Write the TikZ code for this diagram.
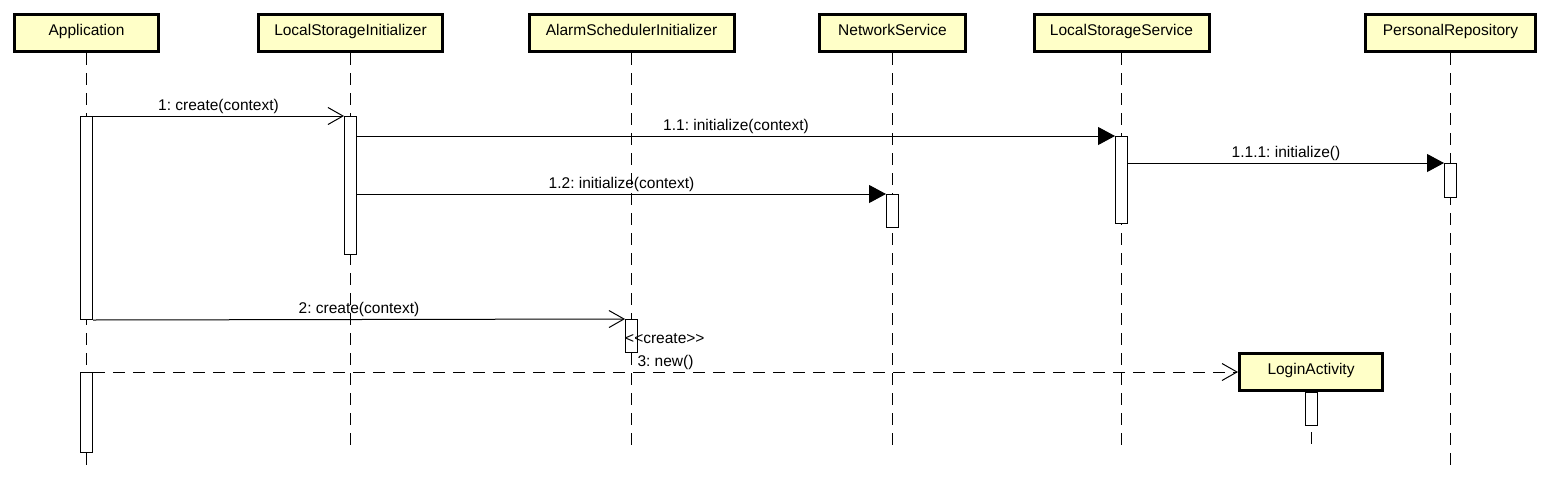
\documentclass[tikz,border=0pt]{standalone}
\usepackage{fontspec}
\setmainfont{Liberation Sans}
\usetikzlibrary{arrows.meta}
\definecolor{objyellow}{RGB}{255,255,200}
\frenchspacing

\begin{document}
\begin{tikzpicture}[x=1pt,y=-1pt,font=\fontsize{15.5}{18}\selectfont]
\tikzset{obj/.style = {draw, line width=3pt, fill=objyellow, minimum height=37pt, inner sep=0pt, text height=10pt, text depth=5pt},
  life/.style = {line width=1pt, dash pattern=on 12pt off 8pt},
  act/.style = {draw, fill=white, line width=1pt, minimum width=12pt, inner sep=0pt, anchor=north},
  call/.style = {line width=1pt, -{Triangle[length=17pt,width=18pt]}},
  create/.style = {line width=1pt, -{Straight Barb[length=15pt,width=17pt]}},
  reply/.style = {create, dash pattern=on 12pt off 8pt},
  lbl/.style = {above, midway, inner sep=2pt}}
\useasboundingbox (0,0) rectangle (1550,485);

\node[obj, minimum width=144pt] (app) at (86.5,33) {Application};
\node[obj, minimum width=184pt] (lsi) at (350.5,33) {LocalStorageInitializer};
\node[obj, minimum width=205pt] (asi) at (631.5,33) {AlarmSchedulerInitializer};
\node[obj, minimum width=146pt] (ns) at (892.5,33) {NetworkService};
\node[obj, minimum width=175pt] (lss) at (1121.5,33) {LocalStorageService};
\node[obj, minimum width=170pt] (pr) at (1450.5,33) {PersonalRepository};
\node[obj, minimum width=143pt] (la) at (1311,372) {LoginActivity};

% lifelines
\coordinate (append) at (86.5,472);
\coordinate (lsiend) at (350.5,445);
\coordinate (asiend) at (631.5,445);
\coordinate (nsend) at (892.5,445);
\coordinate (lssend) at (1121.5,445);
\coordinate (prend) at (1450.5,472);
\coordinate (laend) at (1311,445);
\draw[life] (app.south) -- (append);
\draw[life] (lsi.south) -- (lsiend);
\draw[life] (asi.south) -- (asiend);
\draw[life] (ns.south) -- (nsend);
\draw[life] (lss.south) -- (lssend);
\draw[life] (pr.south) -- (prend);
\draw[life] (la.south) -- (laend);

% activations
\node[act, minimum height=203pt] (appa1) at (86.5,116) {};
\node[act, minimum height=80pt] (appa2) at (86.5,372) {};
\node[act, minimum height=138pt] (lsia) at (350.5,116) {};
\node[act, minimum height=33pt] (asia) at (631.5,319) {};
\node[act, minimum height=33pt] (nsa) at (892.5,194) {};
\node[act, minimum height=87pt] (lssa) at (1121.5,136) {};
\node[act, minimum height=34pt] (pra) at (1450.5,163) {};
\node[act, minimum height=33pt] (laa) at (la.south) {};

% messages
\draw[create] (appa1.north east) -- (lsia.north west) node[lbl] {1: create(context)};
\draw[call] (lsia.east |- lssa.north) -- (lssa.north west) node[lbl] {1.1: initialize(context)};
\draw[call] (lssa.east |- pra.north) -- (pra.north west) node[lbl] {1.1.1: initialize()};
\draw[call] (lsia.east |- nsa.north) -- (nsa.north west) node[lbl] {1.2: initialize(context)};
\draw[create] (appa1.south east) -- (asia.north west) node[lbl] {2: create(context)};
\node[anchor=west, inner sep=0pt] (crt) at ([yshift=-3pt]asia.west) {<\kern0pt<create>\kern0pt>};
\draw[reply] (appa2.north east) -- (la.west) node[lbl] {3: new()};
\end{tikzpicture}
\end{document}
